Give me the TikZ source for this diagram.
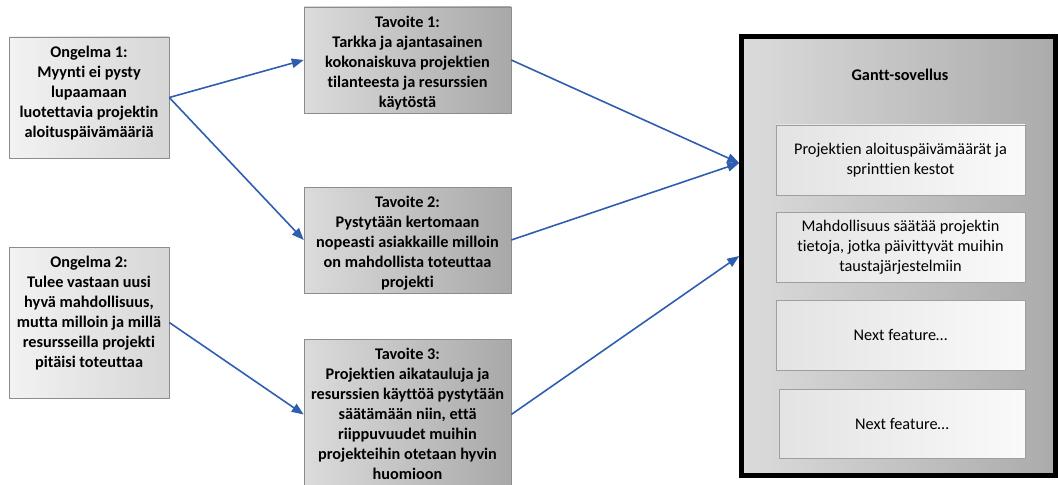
\documentclass[tikz,border=0pt]{standalone}
\usepackage{fontspec}
\setmainfont{Carlito}[Ligatures=NoCommon]
\usetikzlibrary{arrows.meta, positioning, shadows}
\definecolor{arrowblue}{RGB}{47,94,176}
\definecolor{boxline}{RGB}{140,140,140}

\begin{document}
\begin{tikzpicture}[x=0.75pt, y=-0.75pt,
    problem/.style={draw=boxline, left color=gray!10, right color=gray!32, minimum width=120pt,
        drop shadow={shadow xshift=1pt, shadow yshift=-1pt, opacity=0.25}},
    goal/.style={draw=boxline, left color=gray!28, right color=gray!68, minimum width=155.25pt,
        drop shadow={shadow xshift=1pt, shadow yshift=-1pt, opacity=0.25}},
    feature/.style={draw=gray!75, left color=gray!22, right color=gray!4, minimum width=186.75pt,
        minimum height=52.5pt, align=center, font=\fontsize{12.2}{15}\selectfont},
    boxtext/.style={anchor=north, inner ysep=6.75pt, inner xsep=0pt, align=center,
        font=\fontsize{12.2}{15}\selectfont\bfseries},
    link/.style={arrowblue, line width=1.2pt, -{Triangle[length=9pt, width=7pt]}}]
    \useasboundingbox (0,0) rectangle (1058,485);

    % problems
    \node[problem, minimum height=90.75pt] (ong1) at (89,97.5) {};
    \node[boxtext] (ong1txt) at (ong1.north) {Ongelma 1:\\Myynti ei pysty\\lupaamaan\\luotettavia projektin\\aloituspäivämääriä};
    \node[problem, minimum height=113.25pt] (ong2) at (89,322.5) {};
    \node[boxtext] (ong2txt) at (ong2.north) {Ongelma 2:\\Tulee vastaan uusi\\hyvä mahdollisuus,\\mutta milloin ja millä\\resursseilla projekti\\pitäisi toteuttaa};

    % goals
    \node[goal, minimum height=79.5pt] (tav1) at (407.5,60) {};
    \node[boxtext] (tav1txt) at (tav1.north) {Tavoite 1:\\Tarkka ja ajantasainen\\kokonaiskuva projektien\\tilanteesta ja resurssien\\käytöstä};
    \node[goal, minimum height=79.5pt] (tav2) at (407.5,240) {};
    \node[boxtext] (tav2txt) at (tav2.north) {Tavoite 2:\\Pystytään kertomaan\\nopeasti asiakkaille milloin\\on mahdollista toteuttaa\\projekti};
    \node[goal, minimum height=113.25pt] (tav3) at (407.5,414.5) {};
    \node[boxtext] (tav3txt) at (tav3.north) {Tavoite 3:\\Projektien aikatauluja ja\\resurssien käyttöä pystytään\\säätämään niin, että\\riippuvuudet muihin\\projekteihin otetaan hyvin\\huomioon};

    % application
    \node[draw=black, line width=3.4pt, left color=gray!28, right color=gray!66,
        minimum width=235.5pt, minimum height=329pt] (gantt) at (898.5,256) {};
    \node[font=\fontsize{12.2}{15}\selectfont\bfseries] (title) at (900,75) {Gantt-sovellus};
    \node[feature] (f1) at (900.5,160) {Projektien aloituspäivämäärät ja\\sprinttien kestot};
    \node[feature] (f2) at (900.5,247) {Mahdollisuus säätää projektin\\tietoja, jotka päivittyvät muihin\\taustajärjestelmiin};
    \node[feature] (f3) at (900.5,335) {Next feature…};
    \node[feature, minimum width=184.5pt, minimum height=51.75pt] (f4) at (902,423.5) {Next feature…};
    \coordinate (gin) at (gantt.west |- 0,163);

    % arrows
    \draw[link] (ong1.east) -- (tav1.west);
    \draw[link] (ong1.east) -- (tav2.west);
    \draw[link] (ong2.east) -- (tav3.west);
    \draw[link] (tav1.east) -- (gin);
    \draw[link] (tav2.east) -- (gin);
    \draw[link] (tav3.east) -- (gantt.west);
\end{tikzpicture}
\end{document}
